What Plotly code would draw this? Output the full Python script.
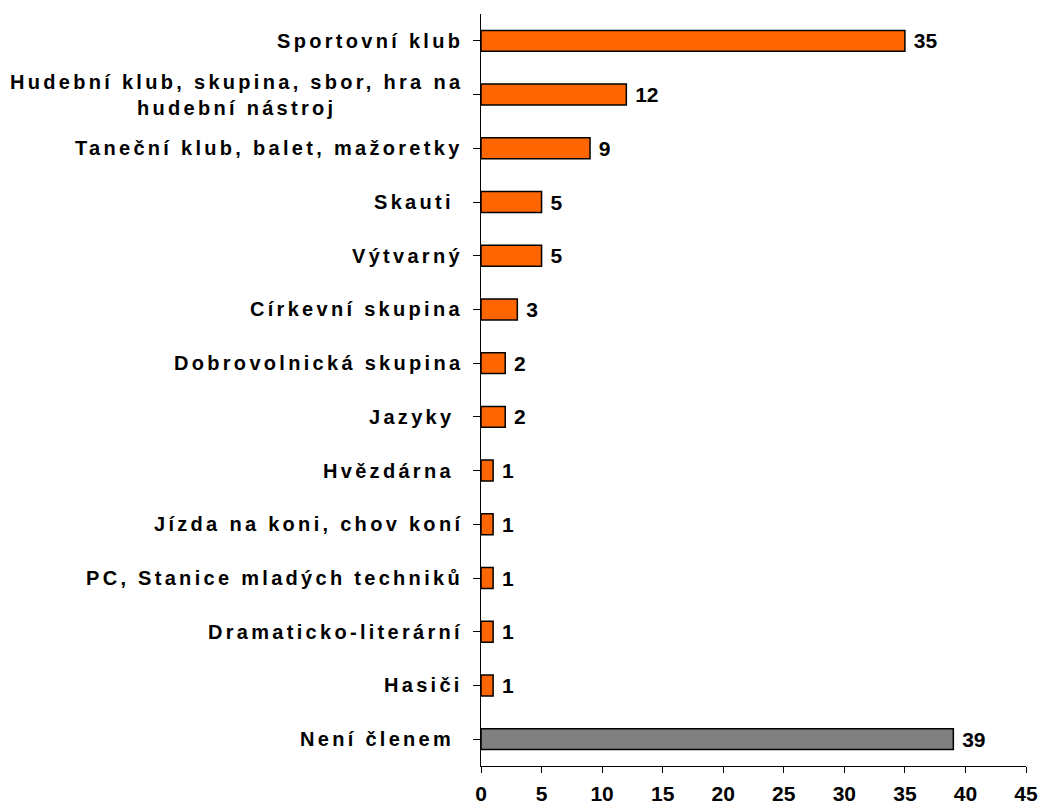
import plotly.graph_objects as go

categories = [
    "Sportovní klub",
    "Hudební klub, skupina, sbor, hra na<br>hudební nástroj",
    "Taneční klub, balet, mažoretky",
    "Skauti\u00a0",
    "Výtvarný",
    "Církevní skupina",
    "Dobrovolnická skupina",
    "Jazyky\u00a0",
    "Hvězdárna\u00a0",
    "Jízda na koni, chov koní",
    "PC, Stanice mladých techniků",
    "Dramaticko-literární",
    "Hasiči",
    "Není členem\u00a0",
]
values = [35, 12, 9, 5, 5, 3, 2, 2, 1, 1, 1, 1, 1, 39]
colors = ["#FF6600"] * 13 + ["#808080"]
x_ticks = [0, 5, 10, 15, 20, 25, 30, 35, 40, 45]

ids = list(range(len(categories)))

fig = go.Figure()
fig.add_trace(go.Bar(
    y=ids,
    x=values,
    orientation="h",
    width=0.39,
    marker=dict(color=colors, line=dict(color="black", width=1.5)),
    text=[f"\u00a0{v}" for v in values],
    textposition="outside",
    constraintext="none",
    textfont=dict(family="Liberation Sans, Arial", size=21, color="black", weight="bold"),
    cliponaxis=False,
    hoverinfo="skip",
))

for i, c in enumerate(categories):
    lines = c.split("<br>")
    txt = "<br>".join(f'<span style="letter-spacing:3.3px">{ln}</span>' for ln in lines)
    fig.add_annotation(
        x=0, xref="paper", y=i, yref="y",
        text=txt, showarrow=False,
        xanchor="right", yanchor="middle", align="center",
        xshift=-16,
        font=dict(family="Liberation Sans, Arial", size=20, color="black", weight="bold"),
    )

fig.update_layout(
    width=1040, height=808,
    margin=dict(l=481, r=14, t=14, b=42, autoexpand=False),
    paper_bgcolor="white", plot_bgcolor="white",
    showlegend=False,
    bargap=0.6,
)
fig.update_xaxes(
    range=[0, 45], tickvals=x_ticks, ticktext=[str(t) for t in x_ticks],
    showgrid=False, zeroline=False,
    showline=True, linecolor="black", linewidth=1,
    ticks="outside", ticklen=6, tickcolor="black", tickwidth=1,
    tickfont=dict(family="Liberation Sans, Arial", size=21, color="black", weight="bold"),
    ticklabelstandoff=3,
    automargin=False,
)
fig.update_yaxes(
    tickvals=ids, range=[len(ids) - 0.5, -0.5],
    showgrid=False, zeroline=False,
    showline=True, linecolor="black", linewidth=1,
    ticks="outside", ticklen=7, tickcolor="black", tickwidth=1,
    tickson="boundaries", type="linear", showticklabels=False,
    automargin=False,
)

fig.write_html(
    "out.html",
    config={"displayModeBar": False},
    post_script="document.body.style.margin='0';document.body.style.overflow='hidden';",
)
